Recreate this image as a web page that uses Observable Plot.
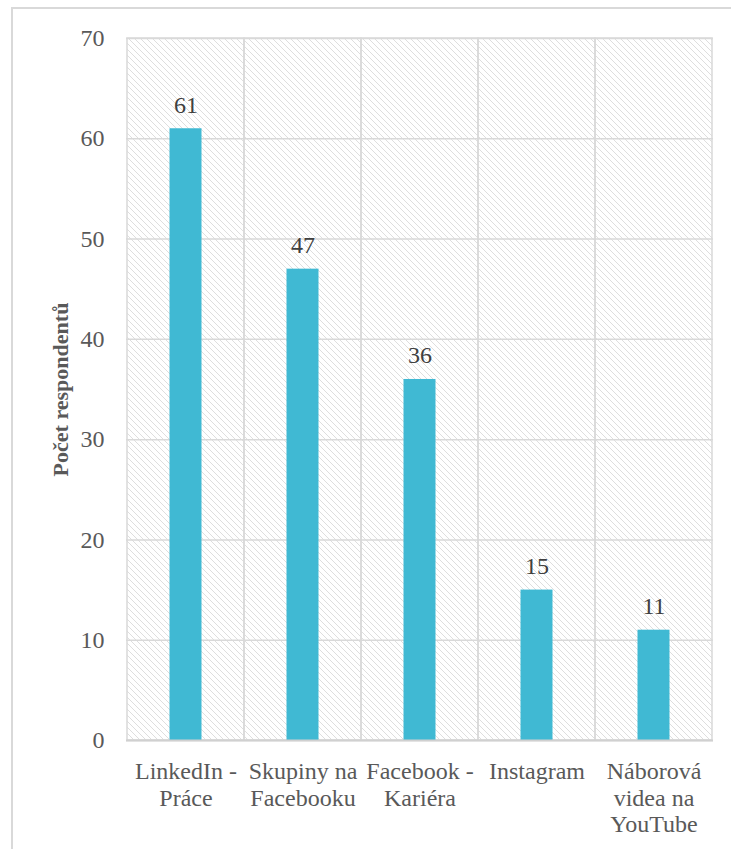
<!DOCTYPE html>
<html>
<head>
<meta charset="utf-8">
<script src="https://cdn.jsdelivr.net/npm/d3@7"></script>
<script src="https://cdn.jsdelivr.net/npm/@observablehq/plot@0.6"></script>
<style>
  html, body { margin: 0; padding: 0; background: #fff; overflow: hidden; }
  #frame { position: absolute; left: 11px; top: 7px; width: 760px; height: 900px; border: 2px solid #d9d9d9; box-sizing: border-box; }
  #chart { position: absolute; left: 0; top: 0; }
</style>
</head>
<body>
<div id="frame"></div>
<div id="chart"></div>
<script>
const categories = ["LinkedIn -\nPráce", "Skupiny na\nFacebooku", "Facebook -\nKariéra", "Instagram", "Náborová\nvidea na\nYouTube"];
const values = [61, 47, 36, 15, 11];
const yTicks = [0, 10, 20, 30, 40, 50, 60, 70];
const yLabel = "Počet respondentů";

const data = categories.map((c, i) => ({category: c, value: values[i]}));
const serif = "Liberation Serif";

const chart = Plot.plot({
  width: 731,
  height: 849,
  marginLeft: 126,
  marginRight: 18,
  marginTop: 38,
  marginBottom: 109,
  style: {background: "transparent"},
  x: {type: "band", domain: categories, padding: 0},
  y: {domain: [0, 70], ticks: yTicks},
  marks: [
    Plot.barY(categories, {x: d => d, y1: 0, y2: 70, fill: "url(#hatch)", stroke: "#d9d9d9", strokeWidth: 1.5}),
    Plot.gridY(yTicks, {stroke: "#d9d9d9", strokeOpacity: 1, strokeWidth: 1.5}),
    Plot.barY(data, {x: "category", y: "value", fill: "#40b9d3", insetLeft: 42.5, insetRight: 42.5}),
    Plot.ruleY([0], {stroke: "#d0d0d0", strokeWidth: 2}),
    Plot.text(data, {x: "category", y: "value", text: d => String(d.value), lineAnchor: "bottom", dy: -16, fontSize: 24, fontFamily: serif, fill: "#404040"}),
    Plot.axisY(yTicks, {tickSize: 0, tickPadding: 22, fontSize: 24, fontFamily: serif, color: "#595959", label: null}),
    Plot.axisX({tickSize: 0, tickPadding: 20, fontSize: 24, fontFamily: serif, color: "#595959", lineHeight: 1.1, label: null}),
    Plot.text([yLabel], {frameAnchor: "left", textAnchor: "middle", dx: -66, rotate: -90, fontSize: 22, fontFamily: serif, fontWeight: "bold", fill: "#595959"})
  ]
});

const svg = d3.select(chart);
const defs = svg.insert("defs", ":first-child");
const pat = defs.append("pattern")
  .attr("id", "hatch")
  .attr("patternUnits", "userSpaceOnUse")
  .attr("width", 6).attr("height", 6);
pat.append("path")
  .attr("d", "M-1,-1 L7,7 M5,-1 L7,1 M-1,5 L1,7")
  .attr("stroke", "#dedede")
  .attr("stroke-width", 1)
  .attr("shape-rendering", "crispEdges");
document.getElementById("chart").appendChild(chart);
</script>
</body>
</html>
